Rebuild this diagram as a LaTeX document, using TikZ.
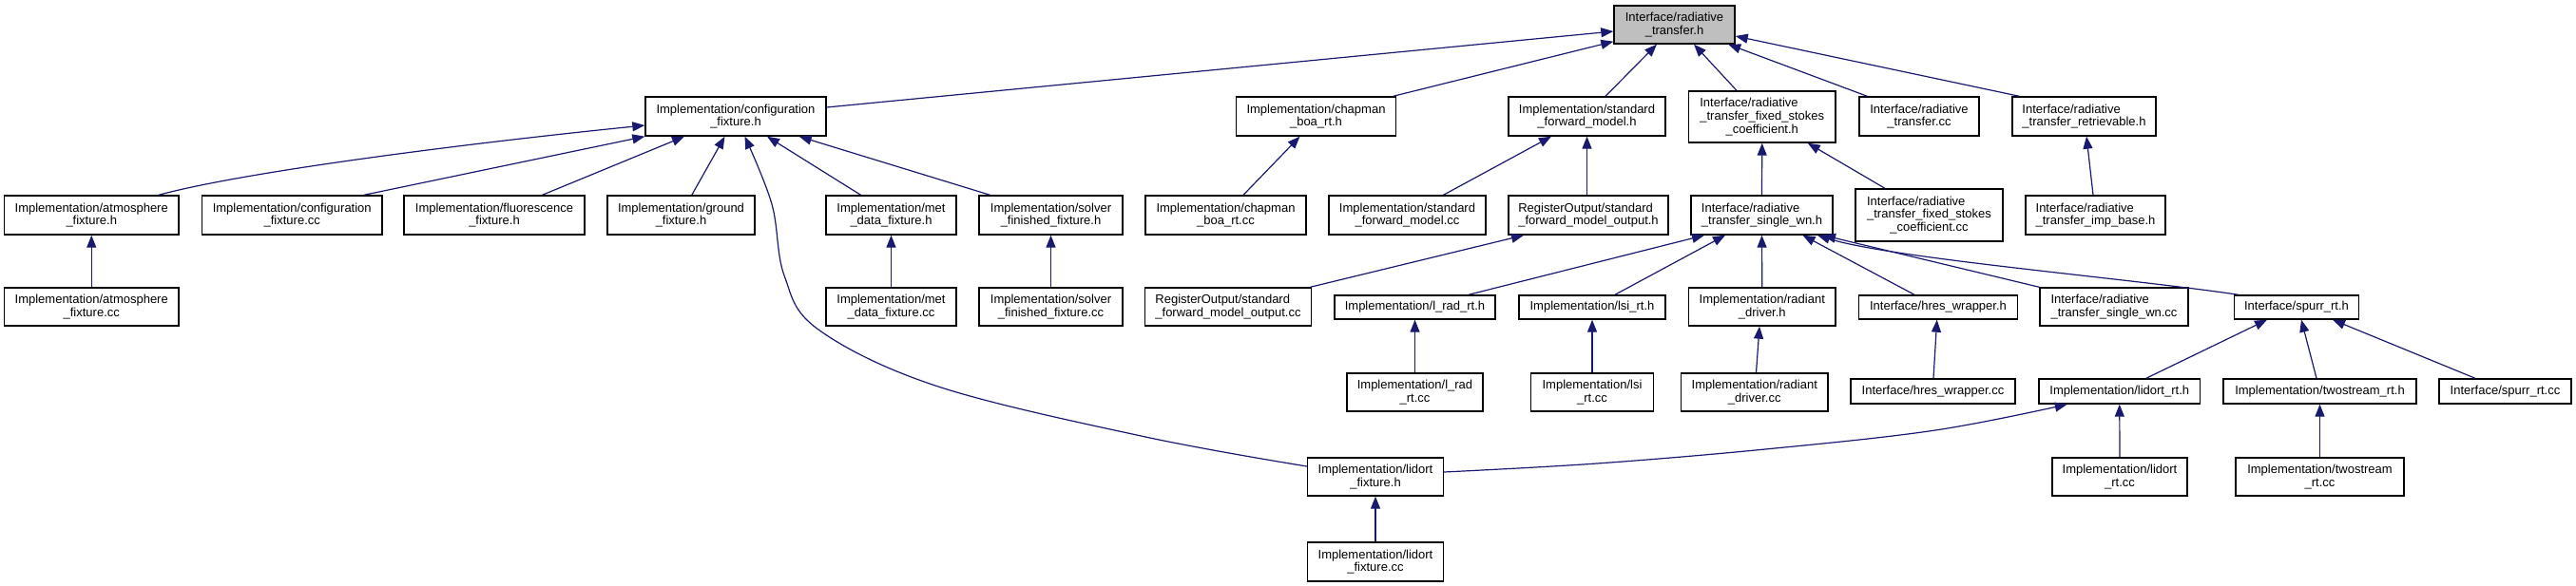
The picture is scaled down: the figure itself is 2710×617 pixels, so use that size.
\documentclass[tikz,border=0pt]{standalone}
\usepackage{fontspec}
\setmainfont{Liberation Sans}
\usetikzlibrary{arrows.meta}
\definecolor{edgeblue}{HTML}{191970}
\definecolor{rootgray}{HTML}{BFBFBF}
\tikzset{
  box/.style={draw=black, fill=white, line width=1.4pt, inner sep=0pt, align=center,
    font=\fontsize{13pt}{13.7pt}\selectfont},
  rootbox/.style={box, fill=rootgray},
  edge/.style={draw=edgeblue, line width=1.2pt, -{Triangle[length=13pt,width=10pt]}},
}
\newcommand{\lft}[2]{\rlap{#1}\phantom{#2}}
\begin{document}
\begin{tikzpicture}[x=1pt,y=-1pt]
\useasboundingbox (0,0) rectangle (2710,617);
% row 0
\node[rootbox, minimum width=127, minimum height=40] (root) at (1761.5,26) {Interface/radiative\\\_transfer.h};
% row 1
\node[box, minimum width=190, minimum height=41] (cfgh) at (774,122.5) {Implementation/configuration\\\_fixture.h};
\node[box, minimum width=168, minimum height=41] (chph) at (1384.5,122.5) {Implementation/chapman\\\_boa\_rt.h};
\node[box, minimum width=165, minimum height=41] (sfmh) at (1669.5,122.5) {Implementation/standard\\\_forward\_model.h};
\node[box, minimum width=154.5, minimum height=54] (fsch) at (1853.75,123) {\lft{Interface/radiative}{\_transfer\_fixed\_stokes}\\\_transfer\_fixed\_stokes\\\_coefficient.h};
\node[box, minimum width=126, minimum height=41] (rtcc) at (2019,122.5) {Interface/radiative\\\_transfer.cc};
\node[box, minimum width=151, minimum height=41] (rtrh) at (2192.5,122.5) {\lft{Interface/radiative}{\_transfer\_retrievable.h}\\\_transfer\_retrievable.h};
% row 2
\node[box, minimum width=183.5, minimum height=41] (atmh) at (96.25,226.5) {Implementation/atmosphere\\\_fixture.h};
\node[box, minimum width=189.5, minimum height=41] (cfgcc) at (307.25,226.5) {Implementation/configuration\\\_fixture.cc};
\node[box, minimum width=190, minimum height=41] (fluh) at (520,226.5) {Implementation/fluorescence\\\_fixture.h};
\node[box, minimum width=155, minimum height=41] (grdh) at (716.5,226.5) {Implementation/ground\\\_fixture.h};
\node[box, minimum width=137, minimum height=41] (meth) at (937.5,226.5) {Implementation/met\\\_data\_fixture.h};
\node[box, minimum width=151, minimum height=41] (solh) at (1105.5,226.5) {Implementation/solver\\\_finished\_fixture.h};
\node[box, minimum width=169, minimum height=41] (chpcc) at (1289.5,226.5) {Implementation/chapman\\\_boa\_rt.cc};
\node[box, minimum width=165, minimum height=41] (sfmcc) at (1480.5,226.5) {Implementation/standard\\\_forward\_model.cc};
\node[box, minimum width=168, minimum height=41] (sfoh) at (1671,226.5) {\lft{RegisterOutput/standard}{\_forward\_model\_output.h}\\\_forward\_model\_output.h};
\node[box, minimum width=149, minimum height=41] (swnh) at (1853.5,226.5) {\lft{Interface/radiative}{\_transfer\_single\_wn.h}\\\_transfer\_single\_wn.h};
\node[box, minimum width=155, minimum height=55] (fsccc) at (2029.5,226.5) {\lft{Interface/radiative}{\_transfer\_fixed\_stokes}\\\_transfer\_fixed\_stokes\\\_coefficient.cc};
\node[box, minimum width=147, minimum height=41] (impb) at (2204.5,226.5) {\lft{Interface/radiative}{\_transfer\_imp\_base.h}\\\_transfer\_imp\_base.h};
% row 3
\node[box, minimum width=183.5, minimum height=40] (atmcc) at (96.25,323) {Implementation/atmosphere\\\_fixture.cc};
\node[box, minimum width=137, minimum height=40] (metcc) at (937.5,323) {Implementation/met\\\_data\_fixture.cc};
\node[box, minimum width=151, minimum height=40] (solcc) at (1105.5,323) {Implementation/solver\\\_finished\_fixture.cc};
\node[box, minimum width=175.5, minimum height=40] (sfocc) at (1292,323) {\lft{RegisterOutput/standard}{\_forward\_model\_output.cc}\\\_forward\_model\_output.cc};
\node[box, minimum width=169, minimum height=25] (lradh) at (1488.5,323.5) {Implementation/l\_rad\_rt.h};
\node[box, minimum width=154, minimum height=25] (lsih) at (1675,323.5) {Implementation/lsi\_rt.h};
\node[box, minimum width=154.5, minimum height=40] (radh) at (1853.75,323) {Implementation/radiant\\\_driver.h};
\node[box, minimum width=166.5, minimum height=25] (hresh) at (2039,323.5) {Interface/hres\_wrapper.h};
\node[box, minimum width=156, minimum height=40] (swncc) at (2224,323) {\lft{Interface/radiative}{\_transfer\_single\_wn.cc}\\\_transfer\_single\_wn.cc};
\node[box, minimum width=131.5, minimum height=25] (spurh) at (2416,323.5) {Interface/spurr\_rt.h};
% row 4
\node[box, minimum width=143, minimum height=40] (lradcc) at (1488.5,413) {Implementation/l\_rad\\\_rt.cc};
\node[box, minimum width=128.5, minimum height=40] (lsicc) at (1675,413) {Implementation/lsi\\\_rt.cc};
\node[box, minimum width=154.5, minimum height=40] (radcc) at (1845.75,413) {Implementation/radiant\\\_driver.cc};
\node[box, minimum width=173, minimum height=26] (hrescc) at (2033.5,412) {Interface/hres\_wrapper.cc};
\node[box, minimum width=169.5, minimum height=26] (lidrh) at (2229.75,412) {Implementation/lidort\_rt.h};
\node[box, minimum width=203, minimum height=26] (twsh) at (2440.5,412) {Implementation/twostream\_rt.h};
\node[box, minimum width=139, minimum height=26] (spurcc) at (2635.5,412) {Interface/spurr\_rt.cc};
% row 5
\node[box, minimum width=143, minimum height=40] (lidfh) at (1447,502) {Implementation/lidort\\\_fixture.h};
\node[box, minimum width=142.3, minimum height=40] (lidrcc) at (2230,502) {Implementation/lidort\\\_rt.cc};
\node[box, minimum width=177, minimum height=40] (twscc) at (2440.5,502) {Implementation/twostream\\\_rt.cc};
% row 6
\node[box, minimum width=143, minimum height=41] (lidfcc) at (1447,591.5) {Implementation/lidort\\\_fixture.cc};

% edges into root
\draw[edge] ([shift={(0,-9.5)}]cfgh.east) -- ([shift={(0,7)}]root.west);
\draw[edge] ([shift={(-3.5,0)}]chph.north east) -- ([shift={(0,-3)}]root.south west);
\draw[edge] ([shift={(19.5,0)}]sfmh.north) -- ([shift={(-18.5,0)}]root.south);
\draw[edge] ([shift={(-26.75,0)}]fsch.north) -- ([shift={(20.5,0)}]root.south);
\draw[edge] ([shift={(9,0)}]rtcc.north west) -- ([shift={(-7.5,0)}]root.south east);
\draw[edge] ([shift={(8,0)}]rtrh.north west) -- ([shift={(0,12)}]root.east);
% edges into configuration_fixture.h
\draw[edge] ([shift={(70.75,0)}]atmh.north) .. controls (260,180) and (500,150) .. ([shift={(0,9.5)}]cfgh.west);
\draw[edge] ([shift={(75.75,0)}]cfgcc.north) -- (cfgh.south west);
\draw[edge] ([shift={(50.5,0)}]fluh.north) -- ([shift={(-54,0)}]cfgh.south);
\draw[edge] ([shift={(11.3,0)}]grdh.north) -- ([shift={(-11.5,0)}]cfgh.south);
\draw[edge] ([shift={(-32,0)}]meth.north) -- ([shift={(33,0)}]cfgh.south);
\draw[edge] ([shift={(-64,0)}]solh.north) -- ([shift={(66.7,0)}]cfgh.south);
\draw[edge] plot[smooth, tension=0.6] coordinates {([shift={(0,-11)}]lidfh.west) (1205,460) (987,407) (861,347) (825,290) (812,215) ([shift={(9.5,0)}]cfgh.south)};
% other edges
\draw[edge] (atmcc.north) -- (atmh.south);
\draw[edge] ([shift={(18.5,0)}]chpcc.north) -- ([shift={(-17,0)}]chph.south);
\draw[edge] ([shift={(38,0)}]sfmcc.north) -- ([shift={(-37.5,0)}]sfmh.south);
\draw[edge] ([shift={(-1.5,0)}]sfoh.north) -- (sfmh.south);
\draw[edge] (swnh.north) -- (fsch.south);
\draw[edge] ([shift={(-46.5,0)}]fsccc.north) -- ([shift={(48,0)}]fsch.south);
\draw[edge] ([shift={(-2.5,0)}]impb.north) -- ([shift={(2.5,0)}]rtrh.south);
\draw[edge] (metcc.north) -- (meth.south);
\draw[edge] (solcc.north) -- (solh.south);
\draw[edge] ([shift={(-2,0)}]sfocc.north east) -- ([shift={(-68,0)}]sfoh.south);
% into single_wn.h
\draw[edge] ([shift={(56.5,0)}]lradh.north) -- ([shift={(-60.5,0)}]swnh.south);
\draw[edge] ([shift={(24,0)}]lsih.north) -- ([shift={(-38.5,0)}]swnh.south);
\draw[edge] (radh.north) -- (swnh.south);
\draw[edge] ([shift={(-25,0)}]hresh.north) -- ([shift={(43,0)}]swnh.south);
\draw[edge] (swncc.north west) -- ([shift={(64.5,0)}]swnh.south);
\draw[edge] ([shift={(5.4,0)}]spurh.north west) .. controls (2230,292) and (1990,272) .. ([shift={(58.5,0)}]swnh.south);
% lower levels
\draw[edge] (lradcc.north) -- (lradh.south);
\draw[edge] (lsicc.north) -- (lsih.south);
\draw[edge] ([shift={(1.75,0)}]radcc.north) -- ([shift={(-2.75,0)}]radh.south);
\draw[edge] ([shift={(0.5,0)}]hrescc.north) -- ([shift={(-1.3,0)}]hresh.south);
\draw[edge] ([shift={(28,0)}]lidrh.north) -- ([shift={(-31,0)}]spurh.south);
\draw[edge] ([shift={(-3.5,0)}]twsh.north) -- ([shift={(5,0)}]spurh.south);
\draw[edge] ([shift={(-31.5,0)}]spurcc.north) -- ([shift={(38,0)}]spurh.south);
\draw[edge] (lidrcc.north) -- (lidrh.south);
\draw[edge] (twscc.north) -- (twsh.south);
\draw[edge] (lidfcc.north) -- (lidfh.south);
\draw[edge] plot[smooth, tension=0.6] coordinates {([shift={(0,-5)}]lidfh.east) (1680,488) (1857,473) (2036,453) ([shift={(-55,0)}]lidrh.south)};
\end{tikzpicture}
\end{document}
